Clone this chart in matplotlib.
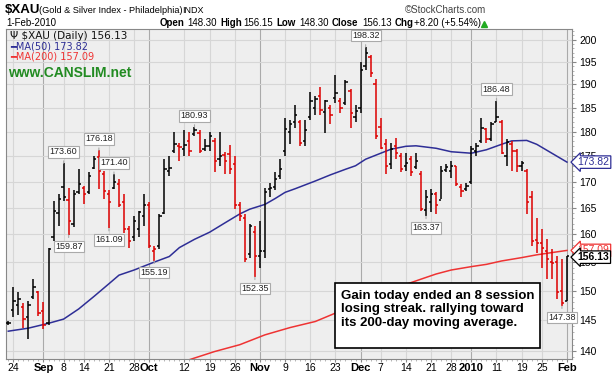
import numpy as np
import matplotlib
matplotlib.use('Agg')
import matplotlib.pyplot as plt
from matplotlib.ticker import FixedLocator, NullFormatter, FuncFormatter
from matplotlib.patches import Rectangle
import matplotlib.transforms as mtransforms

# trading day index: 0 = 24-Aug-2009 ... 110 = 1-Feb-2010
days = np.arange(-1, 111)
opens = [144.5, 146.8, 147.5, 147.2, 145.5, 148.9, 149.8, 146.5, 144.6, 159.5,
         164.0, 169.0, 166.5, 162.0, 168.0, 168.8, 168.0, 172.6, 174.8, 171.5,
         167.5, 168.8, 169.5, 166.0, 161.0, 159.5, 161.0, 163.5, 165.5, 157.0,
         157.8, 164.0, 172.0, 176.0, 177.0, 176.5, 178.0, 179.5, 179.8, 176.5,
         177.0, 178.0, 174.5, 175.2, 175.5, 173.5, 165.5, 163.0, 156.5, 160.5,
         156.0, 157.0, 168.5, 169.0, 171.0, 176.0, 180.0, 182.0, 182.0, 178.0,
         183.0, 185.0, 187.5, 184.0, 185.0, 187.0, 186.5, 186.0, 188.5, 183.0,
         185.0, 194.0, 196.0, 190.0, 181.0, 177.5, 173.5, 177.0, 175.0, 173.0,
         174.5, 172.8, 171.5, 164.5, 166.0, 167.5, 166.5, 172.2, 172.0, 173.0,
         169.0, 168.5, 170.0, 176.0, 178.0, 180.5, 178.5, 182.0, 182.0, 175.0,
         177.5, 176.0, 173.0, 172.0, 167.0, 159.0, 158.5, 157.0, 155.0, 155.0,
         150.0, 148.30]
highs = [144.9, 150.6, 149.7, 147.9, 148.2, 152.0, 150.0, 148.0, 157.6, 166.3,
         167.5, 173.60, 168.8, 168.4, 172.5, 169.2, 171.8, 175.1, 176.18, 172.1,
         168.4, 171.40, 170.4, 167.5, 161.6, 163.4, 164.4, 167.5, 166.0, 157.9,
         163.7, 174.4, 175.1, 180.0, 177.7, 180.4, 180.0, 180.93, 180.4, 178.4,
         180.0, 178.7, 180.0, 175.8, 177.3, 175.1, 166.0, 163.7, 162.0, 161.6,
         162.5, 168.8, 169.8, 171.8, 174.5, 182.9, 182.5, 185.6, 182.5, 182.5,
         188.3, 187.5, 189.5, 186.7, 185.6, 192.1, 187.0, 191.0, 189.1, 185.6,
         195.0, 198.32, 196.5, 191.3, 182.9, 178.4, 177.7, 178.7, 175.7, 175.7,
         175.1, 175.7, 172.1, 168.4, 168.5, 168.0, 173.1, 173.4, 174.1, 173.1,
         169.5, 169.8, 177.1, 177.7, 182.9, 180.8, 181.9, 186.48, 182.5, 178.4,
         178.1, 176.4, 174.1, 172.4, 168.1, 163.1, 161.0, 159.1, 157.3, 156.1,
         155.5, 156.15]
lows = [144.3, 145.6, 145.9, 143.8, 141.9, 148.6, 145.7, 143.6, 144.3, 158.8,
        161.6, 166.3, 159.87, 161.3, 167.5, 165.7, 167.5, 172.4, 168.5, 166.6,
        161.09, 168.5, 165.1, 160.2, 157.6, 158.8, 159.5, 161.6, 157.6, 155.19,
        157.3, 163.7, 171.0, 175.7, 174.1, 175.1, 175.1, 179.1, 175.7, 176.0,
        176.1, 171.8, 173.0, 171.5, 171.5, 164.7, 162.5, 155.0, 155.8, 152.35,
        154.0, 155.8, 167.0, 168.4, 170.4, 175.1, 177.5, 180.7, 177.1, 177.1,
        182.5, 183.4, 183.4, 179.8, 181.5, 186.0, 183.9, 185.6, 180.8, 182.1,
        183.9, 193.2, 191.7, 178.4, 176.4, 171.5, 172.4, 174.4, 171.8, 172.1,
        171.1, 172.4, 164.4, 163.37, 164.1, 163.7, 166.6, 171.8, 170.7, 169.2,
        167.0, 168.2, 169.5, 175.1, 177.7, 177.7, 178.1, 181.9, 175.4, 173.1,
        172.1, 171.8, 172.1, 163.7, 157.9, 156.6, 154.0, 152.0, 152.0, 148.6,
        147.38, 148.30]
closes = [144.6, 148.3, 148.6, 145.2, 147.6, 150.6, 146.3, 144.3, 157.3, 164.4,
          166.6, 167.0, 162.5, 167.5, 169.5, 167.5, 171.1, 174.4, 172.1, 168.2,
          166.0, 169.9, 165.4, 161.0, 158.8, 162.5, 164.1, 165.4, 157.9, 157.4,
          163.4, 172.4, 172.7, 177.4, 176.8, 177.2, 176.1, 180.4, 176.0, 177.1,
          179.1, 174.1, 175.0, 174.0, 172.4, 165.4, 163.4, 155.5, 161.6, 156.0,
          157.0, 168.0, 168.8, 170.5, 172.4, 180.5, 181.5, 183.5, 177.7, 180.3,
          186.4, 186.8, 184.6, 186.4, 183.5, 188.2, 185.0, 190.5, 183.9, 184.3,
          193.2, 196.9, 192.5, 179.0, 176.7, 173.1, 176.4, 175.6, 172.4, 173.7,
          171.8, 174.0, 164.7, 167.0, 167.5, 165.4, 172.1, 172.8, 173.1, 169.5,
          168.1, 169.2, 176.4, 177.1, 180.8, 178.4, 181.5, 183.0, 175.7, 177.8,
          176.1, 173.1, 173.7, 166.0, 158.8, 158.5, 157.5, 155.5, 154.9, 149.7,
          147.93, 156.13]

ma50_days = [-1, 3, 7, 10, 13, 16, 19, 21, 24, 26, 28, 31, 33, 36, 39, 42, 45, 47,
             50, 52, 54, 56, 60, 63, 66, 68, 70, 73, 75, 78, 80, 84, 87, 91, 94,
             97, 99, 102, 104, 107, 110]
ma50 = [143.2, 143.7, 144.5, 145.2, 146.9, 149.0, 151.2, 152.7, 153.6, 154.3,
        155.0, 156.0, 157.6, 159.1, 160.4, 162.1, 163.8, 164.7, 165.6, 166.7,
        167.9, 168.6, 170.1, 171.3, 172.4, 173.1, 174.4, 175.6, 176.4, 177.0,
        177.1, 176.6, 175.9, 175.6, 176.3, 177.4, 178.1, 178.2, 177.4, 175.6, 173.82]
ma200_days = [35, 40, 45, 50, 55, 60, 64, 72, 81, 84, 87, 91, 94, 97, 101, 104, 107, 110]
ma200 = [138.6, 139.9, 141.0, 142.6, 143.8, 144.8, 146.2, 149.3, 152.0, 152.9,
         153.6, 154.2, 154.6, 155.2, 155.8, 156.3, 156.7, 157.09]

# price call-outs: (day, text, above the bar?)
callouts = [(10, '173.60', True), (11, '159.87', False), (17, '176.18', True),
            (19, '161.09', False), (20, '171.40', True), (28, '155.19', False),
            (36, '180.93', True), (48, '152.35', False), (70, '198.32', True),
            (82, '163.37', False), (96, '186.48', True), (109, '147.38', False)]

xtick_days = [0, 6, 10, 14, 19, 24, 27, 34, 39, 44, 49, 54, 59, 64, 69, 73, 78, 83,
              87, 91, 96, 101, 105, 110]
xtick_labels = ['24', 'Sep', '8', '14', '21', '28', 'Oct', '12', '19', '26', 'Nov',
                '9', '16', '23', 'Dec', '7', '14', '21', '28', '2010', '11', '19',
                '25', 'Feb']
yticks = list(range(140, 201, 5))

plt.rcParams['font.family'] = ['Liberation Sans', 'DejaVu Sans']

fig = plt.figure(figsize=(6.16, 3.75), dpi=100)
W, H = 616.0, 375.0
ax = fig.add_axes([6 / W, 1 - 359.3 / H, 566 / W, 330 / H])
ax.set_facecolor('#eeeeee')
ax.set_yscale('log')
ax.set_xlim(-1.45, 111.0)
ax.set_ylim(138.66, 202.4)

# grid
major_months = {'Sep', 'Oct', 'Nov', 'Dec', '2010', 'Feb'}
for d, lab in zip(xtick_days, xtick_labels):
    ax.axvline(d, color='#aaaaaa' if lab in major_months else '#d6d6d6', lw=0.8, zorder=0)
for v in yticks:
    ax.axhline(v, color='#d6d6d6', lw=0.8, zorder=0)

# OHLC bars
days_arr = np.array(days, dtype=float)
cols = ['black'] + ['#dd0000' if closes[i] < closes[i - 1] else 'black'
                    for i in range(1, len(closes))]
ax.vlines(days_arr, lows, highs, colors=cols, lw=1.1, zorder=3)
ax.hlines(opens, days_arr - 0.45, days_arr, colors=cols, lw=1.1, zorder=3)
ax.hlines(closes, days_arr, days_arr + 0.45, colors=cols, lw=1.1, zorder=3)

# moving averages
ax.plot(ma50_days, ma50, color='#2e2e96', lw=1.1, zorder=2)
ax.plot(ma200_days, ma200, color='#ee3333', lw=1.1, zorder=2)

# call-outs
for d, txt, above in callouts:
    i = list(days).index(d)
    yv = highs[i] if above else lows[i]
    ax.annotate(txt, xy=(d, yv), xytext=(0, 5 if above else -5), textcoords='offset points',
                ha='center', va='bottom' if above else 'top', fontsize=6.5, color='#222222',
                bbox=dict(boxstyle='square,pad=0.15', fc='white', ec='#aaaaaa', lw=0.8),
                arrowprops=dict(arrowstyle='-', color='#aaaaaa', lw=0.8), zorder=6)

# axes styling
ax.yaxis.tick_right()
ax.yaxis.set_major_locator(FixedLocator(yticks))
ax.yaxis.set_major_formatter(FuncFormatter(lambda v, p: '%d' % round(v)))
ax.yaxis.set_minor_locator(FixedLocator(list(range(139, 203))))
ax.yaxis.set_minor_formatter(NullFormatter())
ax.tick_params(axis='y', which='major', length=3, color='#888888', labelsize=7.5, pad=2)
ax.tick_params(axis='y', which='minor', length=1.5, color='#aaaaaa')
ax.set_xticks(xtick_days)
ax.set_xticklabels(xtick_labels)
ax.set_xticks(days_arr, minor=True)
ax.tick_params(axis='x', which='major', length=2, color='#888888', labelsize=7.5, pad=1)
ax.tick_params(axis='x', which='minor', length=1.5, color='#aaaaaa')
for t in ax.get_xticklabels():
    if t.get_text() in major_months:
        t.set_fontweight('bold')
        t.set_fontsize(8)
for s in ax.spines.values():
    s.set_color('#888888')
    s.set_linewidth(0.8)

# right-hand value tags
trans = mtransforms.blended_transform_factory(ax.transAxes, ax.transData)
ax.annotate('173.82', xy=(1.0, 173.82), xycoords=trans, xytext=(4, 0), textcoords='offset points',
            ha='left', va='center', fontsize=7.5, color='#2e2e96',
            bbox=dict(boxstyle='larrow,pad=0.12', fc='white', ec='#2e2e96', lw=0.9), zorder=7,
            annotation_clip=False)
ax.annotate('157.09', xy=(1.0, 157.09), xycoords=trans, xytext=(4, 0), textcoords='offset points',
            ha='left', va='center', fontsize=7.5, color='#ee3333',
            bbox=dict(boxstyle='larrow,pad=0.12', fc='white', ec='#ee3333', lw=0.9), zorder=7,
            annotation_clip=False)
ax.annotate('156.13', xy=(1.0, 156.13), xycoords=trans, xytext=(4, -1), textcoords='offset points',
            ha='left', va='center', fontsize=7.5, fontweight='bold', color='black',
            bbox=dict(boxstyle='larrow,pad=0.12', fc='white', ec='black', lw=0.9), zorder=8,
            annotation_clip=False)

# comment box
ax.add_patch(Rectangle((0.581, 0.034), 0.362, 0.197, transform=ax.transAxes,
                       fc='white', ec='black', lw=1.2, zorder=5))
ax.text(0.592, 0.1515, 'Gain today ended an 8 session\nlosing streak. rallying toward\n'
        'its 200-day moving average.', transform=ax.transAxes, ha='left', va='center',
        fontsize=9.5, fontweight='bold', linespacing=1.15, zorder=6)

# in-chart legend
fig.text(10 / W, 1 - 36 / H, '\u03a8 $XAU (Daily) 156.13', fontsize=7.5, family='DejaVu Sans',
         va='center', color='#111111')
fig.text(10 / W, 1 - 46.5 / H, '\u2501MA(50) 173.82', fontsize=7, family='DejaVu Sans',
         va='center', color='#2e2e96')
fig.text(10 / W, 1 - 56.5 / H, '\u2501MA(200) 157.09', fontsize=7, family='DejaVu Sans',
         va='center', color='#ee3333')
fig.text(8 / W, 1 - 73 / H, 'www.CANSLIM.net', fontsize=10, fontweight='bold',
         va='center', color='#228b22')

# header
fig.text(5 / W, 1 - 10 / H, '$XAU', fontsize=9.5, fontweight='bold', va='center')
fig.text(39 / W, 1 - 10.5 / H, '(Gold & Silver Index - Philadelphia)', fontsize=6.6, va='center')
fig.text(182 / W, 1 - 10.5 / H, 'INDX', fontsize=6.5, va='center')
fig.text(486 / W, 1 - 10 / H, '\u00a9StockCharts.com', fontsize=7, va='center', ha='right',
         color='#444444')
fig.text(6 / W, 1 - 23.5 / H, '1-Feb-2010', fontsize=7, va='center')
header = [(160, 'Open', True), (187, '148.30', False), (220, 'High', True),
          (243, '156.15', False), (276, 'Low', True), (299, '148.30', False),
          (332, 'Close', True), (362, '156.13', False), (395, 'Chg', True),
          (414, '+8.20 (+5.54%)', False)]
for x, t, b in header:
    fig.text(x / W, 1 - 23.5 / H, t, fontsize=7,
             fontweight='bold' if b else 'normal', va='center')
fig.add_artist(plt.Line2D([484 / W], [1 - 23.5 / H], marker='^', color='#22aa22',
                          markersize=4.5, transform=fig.transFigure))

fig.savefig('out.png', dpi=100)
